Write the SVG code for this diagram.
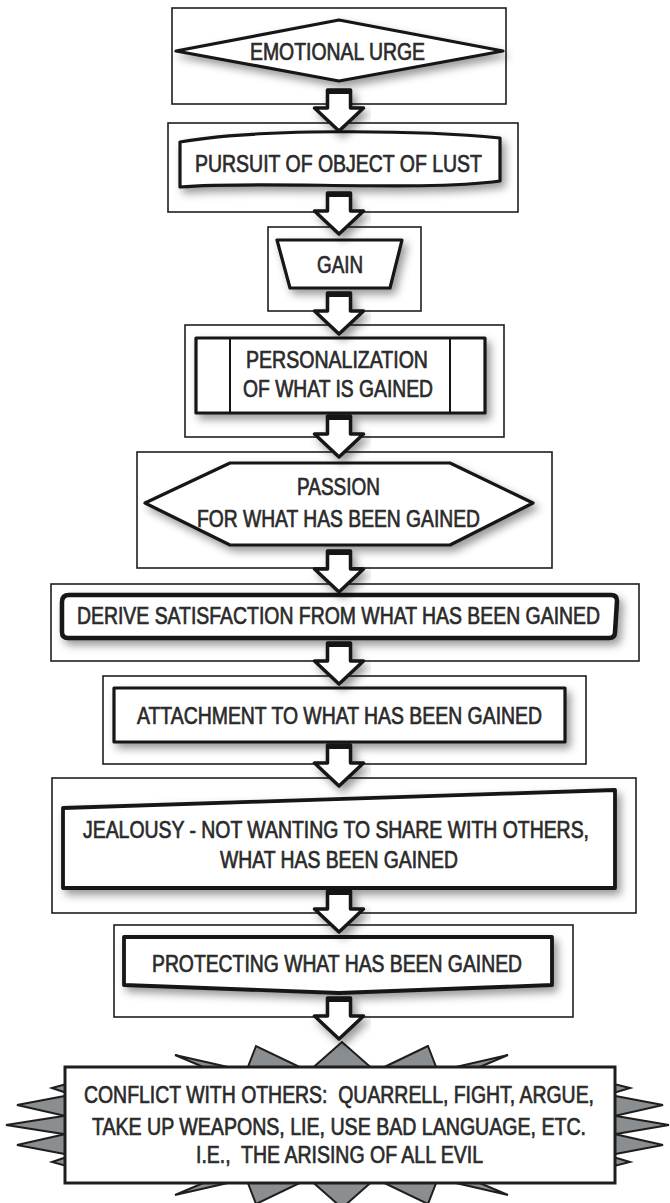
<svg xmlns="http://www.w3.org/2000/svg" xmlns:xlink="http://www.w3.org/1999/xlink" width="670" height="1203" viewBox="0 0 670 1203">
<style>
.outer{fill:#fff;stroke:#1e1e1e;stroke-width:1.6}
.inner{fill:#fff;stroke:#151515;stroke-width:3.2;stroke-linejoin:round;filter:url(#sh)}
.t{font-family:"Liberation Sans",Arial,sans-serif;font-size:19px;fill:#2a2a2a;stroke:#2a2a2a;stroke-width:0.55;text-anchor:middle}
.spike{fill:#8b8e91;stroke:#1e1e1e;stroke-width:2;stroke-linejoin:miter}
.arrow{fill:#fff;stroke:#151515;stroke-width:3.5;stroke-linejoin:round}
</style>
<defs>
<filter id="sh" x="-10%" y="-20%" width="125%" height="160%">
<feDropShadow dx="4" dy="5" stdDeviation="4" flood-color="#000" flood-opacity="0.4"/>
</filter>
<g id="arr">
<polygon class="arrow" points="-11.5,0 11.5,0 11.5,18 24.5,18 0,41 -24.5,18 -11.5,18" filter="url(#sh)"/>
<rect x="-12.5" y="-1" width="25" height="5" fill="#151515"/>
</g>
</defs>

<g id="node1">
<rect class="outer" x="172" y="8" width="334" height="96"/>
<polygon class="inner" points="176,51 339,20 503,51 339,81"/>
<text class="t" transform="translate(0,60) scale(1,1.28)" x="337.5" y="0" textLength="175" lengthAdjust="spacingAndGlyphs">EMOTIONAL URGE</text>
</g>

<g id="node2">
<rect class="outer" x="168" y="123" width="350" height="89"/>
<path class="inner" d="M180,142 C260,128 420,130 500,138 L500,181 C420,192 260,180 180,187 Z"/>
<text class="t" transform="translate(0,172) scale(1,1.28)" x="338.5" y="0" textLength="287" lengthAdjust="spacingAndGlyphs">PURSUIT OF OBJECT OF LUST</text>
</g>

<g id="node3">
<rect class="outer" x="268" y="227" width="153" height="84"/>
<polygon class="inner" points="277,240 402,240 390,288 290,288"/>
<text class="t" transform="translate(0,273) scale(1,1.28)" x="340" y="0" textLength="46" lengthAdjust="spacingAndGlyphs">GAIN</text>
</g>

<g id="node4">
<rect class="outer" x="185" y="325" width="319" height="112"/>
<rect class="inner" x="196" y="338" width="289" height="75"/>
<line x1="230" y1="338" x2="230" y2="413" stroke="#151515" stroke-width="2"/>
<line x1="450" y1="338" x2="450" y2="413" stroke="#151515" stroke-width="2"/>
<text class="t" transform="translate(0,368) scale(1,1.28)" x="337" y="0" textLength="182" lengthAdjust="spacingAndGlyphs">PERSONALIZATION</text>
<text class="t" transform="translate(0,397) scale(1,1.28)" x="338" y="0" textLength="190" lengthAdjust="spacingAndGlyphs">OF WHAT IS GAINED</text>
</g>

<g id="node5">
<rect class="outer" x="137" y="452" width="415" height="116"/>
<polygon class="inner" points="145,503 230,463 450,463 533,503 450,545 230,545"/>
<text class="t" transform="translate(0,495) scale(1,1.28)" x="338.5" y="0" textLength="83" lengthAdjust="spacingAndGlyphs">PASSION</text>
<text class="t" transform="translate(0,527) scale(1,1.28)" x="338.5" y="0" textLength="283" lengthAdjust="spacingAndGlyphs">FOR WHAT HAS BEEN GAINED</text>
</g>

<g id="node6">
<rect class="outer" x="51" y="584" width="588" height="77"/>
<path class="inner" style="stroke-width:4.5" d="M69,595 L611,595 Q617,595 617,601 L615,632 Q615,638 609,638 L68,638 Q62,638 62,632 L62,602 Q62,595 69,595 Z"/>
<text class="t" transform="translate(0,624) scale(1,1.28)" x="338.5" y="0" textLength="523" lengthAdjust="spacingAndGlyphs">DERIVE SATISFACTION FROM WHAT HAS BEEN GAINED</text>
</g>

<g id="node7">
<rect class="outer" x="103" y="676" width="483" height="88"/>
<rect class="inner" x="114" y="688" width="451" height="54"/>
<text class="t" transform="translate(0,724) scale(1,1.28)" x="339.5" y="0" textLength="405" lengthAdjust="spacingAndGlyphs">ATTACHMENT TO WHAT HAS BEEN GAINED</text>
</g>

<g id="node8">
<rect class="outer" x="52" y="778" width="584" height="135"/>
<polygon class="inner" style="stroke-width:3.8" points="63,808 615,790 615,888 63,888"/>
<text class="t" transform="translate(0,838) scale(1,1.28)" x="336" y="0" textLength="506" lengthAdjust="spacingAndGlyphs">JEALOUSY - NOT WANTING TO SHARE WITH OTHERS,</text>
<text class="t" transform="translate(0,868) scale(1,1.28)" x="339" y="0" textLength="238" lengthAdjust="spacingAndGlyphs">WHAT HAS BEEN GAINED</text>
</g>

<g id="node9">
<rect class="outer" x="114" y="925" width="459" height="92"/>
<path class="inner" style="stroke-width:3.8" d="M124,937 L552,937 L552,985 L339,993 L124,985 Z"/>
<text class="t" transform="translate(0,972) scale(1,1.28)" x="337" y="0" textLength="370" lengthAdjust="spacingAndGlyphs">PROTECTING WHAT HAS BEEN GAINED</text>
</g>

<g id="node10">
<polygon class="spike" points="175,1055 215,1072 250,1072"/>
<polygon class="spike" points="256,1046 246,1072 310,1072"/>
<polygon class="spike" points="342,1042 308,1072 376,1072"/>
<polygon class="spike" points="428,1046 374,1072 438,1072"/>
<polygon class="spike" points="508,1055 434,1072 468,1072"/>
<polygon class="spike" points="175,1195 215,1178 250,1178"/>
<polygon class="spike" points="256,1204 246,1178 310,1178"/>
<polygon class="spike" points="342,1208 308,1178 376,1178"/>
<polygon class="spike" points="428,1204 374,1178 438,1178"/>
<polygon class="spike" points="508,1195 434,1178 468,1178"/>
<polygon class="spike" points="52,1088 70,1083 70,1094"/>
<polygon class="spike" points="17,1105 70,1095 70,1117"/>
<polygon class="spike" points="6,1125 70,1115 70,1135"/>
<polygon class="spike" points="17,1145 70,1133 70,1155"/>
<polygon class="spike" points="52,1162 70,1156 70,1167"/>
<polygon class="spike" points="630,1088 610,1083 610,1094"/>
<polygon class="spike" points="663,1105 610,1095 610,1117"/>
<polygon class="spike" points="669,1125 610,1115 610,1135"/>
<polygon class="spike" points="663,1145 610,1133 610,1155"/>
<polygon class="spike" points="630,1162 610,1156 610,1167"/>
<rect x="65" y="1067" width="550" height="116" fill="#fff" stroke="#1e1e1e" stroke-width="3"/>
<text class="t" transform="translate(0,1103) scale(1,1.28)" x="339" y="0" textLength="510" lengthAdjust="spacingAndGlyphs" xml:space="preserve">CONFLICT WITH OTHERS:  QUARRELL, FIGHT, ARGUE,</text>
<text class="t" transform="translate(0,1135) scale(1,1.28)" x="339" y="0" textLength="494" lengthAdjust="spacingAndGlyphs">TAKE UP WEAPONS, LIE, USE BAD LANGUAGE, ETC.</text>
<text class="t" transform="translate(0,1163) scale(1,1.28)" x="339.5" y="0" textLength="287" lengthAdjust="spacingAndGlyphs" xml:space="preserve">I.E.,  THE ARISING OF ALL EVIL</text>
</g>

<g id="connectors">
<use xlink:href="#arr" x="339" y="90"/>
<use xlink:href="#arr" x="339" y="193"/>
<use xlink:href="#arr" x="339" y="293"/>
<use xlink:href="#arr" x="339" y="416"/>
<use xlink:href="#arr" x="339" y="551"/>
<use xlink:href="#arr" x="339" y="643"/>
<use xlink:href="#arr" x="339" y="745"/>
<use xlink:href="#arr" x="339" y="891"/>
<use xlink:href="#arr" x="339" y="998"/>
</g>
</svg>
